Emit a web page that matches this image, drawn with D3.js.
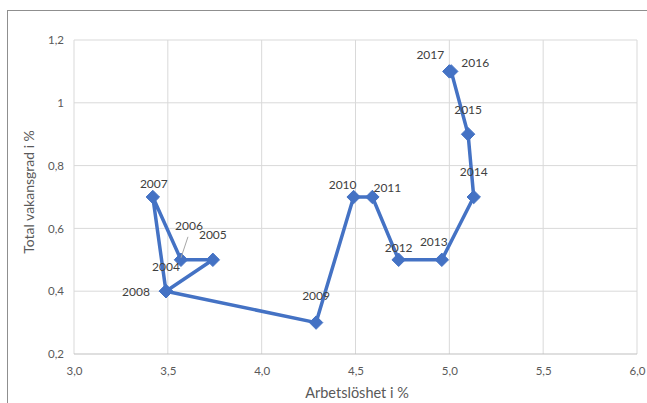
<!DOCTYPE html>
<html>
<head>
<meta charset="utf-8">
<script src="https://cdn.jsdelivr.net/npm/d3@7"></script>
<style>
  html, body { margin: 0; padding: 0; background: #fff; }
  svg { display: block; font-family: Lato, "Open Sans", "Liberation Sans", sans-serif; }
</style>
</head>
<body>
<svg id="chart" width="647" height="403"></svg>
<script>
// Beveridge curve: unemployment vs. vacancy rate per year
const years = ["2004","2005","2006","2007","2008","2009","2010","2011","2012","2013","2014","2015","2016","2017"];
const unemployment = [3.49, 3.74, 3.57, 3.42, 3.49, 4.29, 4.49, 4.59, 4.73, 4.96, 5.13, 5.10, 5.01, 5.00];
const vacancyRate  = [0.40, 0.50, 0.50, 0.70, 0.40, 0.30, 0.70, 0.70, 0.50, 0.50, 0.70, 0.90, 1.10, 1.10];
const xTicks = [3.0, 3.5, 4.0, 4.5, 5.0, 5.5, 6.0];
const yTicks = [0.2, 0.4, 0.6, 0.8, 1.0, 1.2];

// label placement relative to each marker (dx, dy of text centre)
const labelOffsets = [
  [0, -25], [0, -25], [8, -34], [1, -14], [-30, 0], [0, -27], [-11, -13],
  [15, -10], [0, -12], [-8, -18], [0, -26], [0, -25], [24, -9], [-19, -17]
];

const svg = d3.select("#chart");
const margin = { left: 74, right: 10, top: 40, bottom: 49 };

const x = d3.scaleLinear().domain([3, 6]).range([margin.left, 637]);
const y = d3.scaleLinear().domain([0.2, 1.2]).range([354, 40]);

// outer chart frame
svg.append("rect")
  .attr("x", 7.5).attr("y", 10.5).attr("width", 700).attr("height", 500)
  .attr("fill", "none").attr("stroke", "#8f8f8f").attr("stroke-width", 1);

// gridlines
svg.append("g").selectAll("line.v").data(xTicks).join("line")
  .attr("x1", d => x(d)).attr("x2", d => x(d))
  .attr("y1", y(1.2)).attr("y2", y(0.2))
  .attr("stroke", "#d9d9d9").attr("stroke-width", 1);
svg.append("g").selectAll("line.h").data(yTicks).join("line")
  .attr("x1", x(3)).attr("x2", x(6))
  .attr("y1", d => y(d)).attr("y2", d => y(d))
  .attr("stroke", d => d === 0.2 ? "#bfbfbf" : "#d9d9d9").attr("stroke-width", 1);

// axes (labels only)
const fmt = d => d3.format(".1f")(d).replace(".", ",");
const xAxis = svg.append("g").attr("transform", `translate(0,${y(0.2)})`)
  .call(d3.axisBottom(x).tickValues(xTicks).tickFormat(fmt).tickSize(0).tickPadding(13));
const yAxis = svg.append("g").attr("transform", `translate(${x(3)},0)`)
  .call(d3.axisLeft(y).tickValues(yTicks)
    .tickFormat(d => (d === 1 ? "1" : fmt(d))).tickSize(0).tickPadding(10));
[xAxis, yAxis].forEach(g => {
  g.select(".domain").remove();
  g.selectAll("text").attr("fill", "#595959").attr("font-size", 11.5)
    .attr("font-family", "Lato, 'Open Sans', sans-serif");
});

// axis titles
svg.append("text").attr("x", 357).attr("y", 398).attr("text-anchor", "middle")
  .attr("fill", "#595959").attr("font-size", 14.5).text("Arbetslöshet i %");
svg.append("text").attr("transform", "translate(34,192) rotate(-90)").attr("text-anchor", "middle")
  .attr("fill", "#595959").attr("font-size", 14).text("Total vakansgrad i %");

// series line
const pts = years.map((yr, i) => ({ yr, ux: unemployment[i], vy: vacancyRate[i], off: labelOffsets[i] }));
svg.append("path").datum(pts)
  .attr("d", d3.line().x(d => x(d.ux)).y(d => y(d.vy)))
  .attr("fill", "none").attr("stroke", "#4472C4").attr("stroke-width", 3.5)
  .attr("stroke-linejoin", "round");

// diamond markers
svg.append("g").selectAll("path").data(pts).join("path")
  .attr("transform", d => `translate(${x(d.ux)},${y(d.vy)})`)
  .attr("d", d3.symbol().type(d3.symbolDiamond2).size(115))
  .attr("fill", "#4472C4").attr("stroke", "#4472C4").attr("stroke-width", 1);

// leader line for the 2006 label
const p06 = pts[2];
svg.append("line")
  .attr("x1", x(p06.ux) + 7).attr("y1", y(p06.vy) - 23)
  .attr("x2", x(p06.ux)).attr("y2", y(p06.vy) - 2)
  .attr("stroke", "#a6a6a6").attr("stroke-width", 1);

// data labels
svg.append("g").selectAll("text").data(pts).join("text")
  .attr("x", d => x(d.ux) + d.off[0]).attr("y", d => y(d.vy) + d.off[1])
  .attr("text-anchor", "middle").attr("dominant-baseline", "central")
  .attr("fill", "#404040").attr("font-size", 12)
  .text(d => d.yr);
</script>
</body>
</html>
